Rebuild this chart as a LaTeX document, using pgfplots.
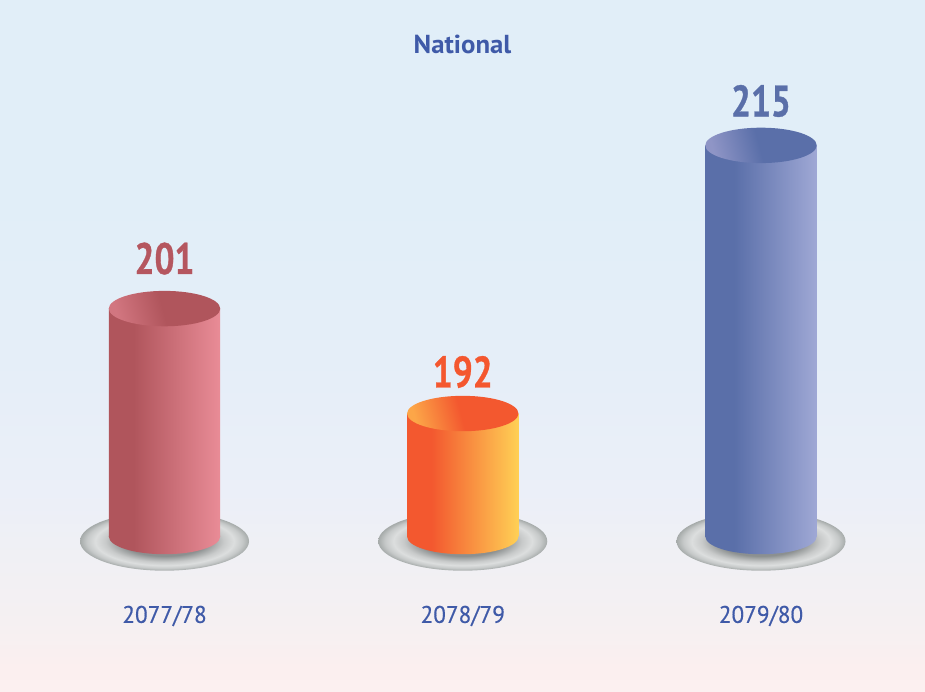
\documentclass[border=0pt]{standalone}
\usepackage{pgfplots}
\usepackage{fontspec}
\usetikzlibrary{shapes.geometric}
\pgfplotsset{compat=1.18}
\setmainfont{PT Sans}
\newfontfamily\numfont[FakeStretch=0.8,FakeBold=0.7]{PT Sans}
\definecolor{titleblue}{HTML}{3F5AA8}
\definecolor{labred}{HTML}{B5565F}
\definecolor{laborange}{HTML}{F4572F}
\definecolor{labblue}{HTML}{5A6FA9}
\definecolor{r1}{HTML}{B0555C}\definecolor{r2}{HTML}{E98C97}\definecolor{r3}{HTML}{D27680}
\definecolor{o1}{HTML}{F3582F}\definecolor{o2}{HTML}{FFD055}\definecolor{o3}{HTML}{FCA648}
\definecolor{b1}{HTML}{5A6FA9}\definecolor{b2}{HTML}{9FA8D5}\definecolor{b3}{HTML}{8F95C6}
\definecolor{bg1}{HTML}{FCF0F0}\definecolor{bg2}{HTML}{FBEFEF}\definecolor{bg3}{HTML}{F5F0F2}\definecolor{bg4}{HTML}{F0F0F4}\definecolor{bg5}{HTML}{EBEFF8}\definecolor{bg6}{HTML}{E5EEF8}\definecolor{bg7}{HTML}{E1EEF8}
\definecolor{d1}{HTML}{8C9090}\definecolor{d2}{HTML}{C8CACA}\definecolor{d3}{HTML}{DCDEDE}\definecolor{d4}{HTML}{C6C9C9}\definecolor{d5}{HTML}{A6ABAA}
% visible range of an axial shading is 25bp..75bp
\pgfdeclarehorizontalshading{redbar}{100bp}{color(0bp)=(r1); color(25bp)=(r1); color(36bp)=(r1); color(75bp)=(r2); color(100bp)=(r2)}
\pgfdeclarehorizontalshading{orangebar}{100bp}{color(0bp)=(o1); color(25bp)=(o1); color(36bp)=(o1); color(75bp)=(o2); color(100bp)=(o2)}
\pgfdeclarehorizontalshading{bluebar}{100bp}{color(0bp)=(b1); color(25bp)=(b1); color(38bp)=(b1); color(75bp)=(b2); color(100bp)=(b2)}
\pgfdeclarehorizontalshading{redtop}{100bp}{color(0bp)=(r3); color(25bp)=(r3); color(49bp)=(r1); color(100bp)=(r1)}
\pgfdeclarehorizontalshading{orangetop}{100bp}{color(0bp)=(o3); color(25bp)=(o3); color(49bp)=(o1); color(100bp)=(o1)}
\pgfdeclarehorizontalshading{bluetop}{100bp}{color(0bp)=(b3); color(25bp)=(b3); color(49bp)=(b1); color(100bp)=(b1)}
\pgfdeclareverticalshading{bgsh}{100bp}{color(0bp)=(bg1); color(25bp)=(bg1); color(26.7bp)=(bg2); color(30bp)=(bg3); color(34.8bp)=(bg4); color(39.5bp)=(bg5); color(49bp)=(bg6); color(60.5bp)=(bg7); color(100bp)=(bg7)}
\pgfdeclareradialshading{dishsh}{\pgfpoint{0bp}{0bp}}{color(0bp)=(d1); color(12.5bp)=(d1); color(17.5bp)=(d2); color(20.5bp)=(d3); color(23bp)=(d4); color(25bp)=(d5); color(50bp)=(d5)}
\pgfplotsset{
  ell/.style={sharp plot, draw=none, mark=none, nodes near coords={},
    nodes near coords style={shape=ellipse, inner sep=0pt, outer sep=0pt, anchor=center,
      minimum width=111.4pt, minimum height=35.4pt, shading=#1}},
  elltop/.style={sharp plot, draw=none, mark=none, nodes near coords={},
    nodes near coords style={shape=ellipse, inner sep=0pt, outer sep=0pt, anchor=center,
      minimum width=111.4pt, minimum height=35.4pt, shading=#1, shading angle=15}},
  val/.style n args={2}{sharp plot, draw=none, mark=none, nodes near coords,
    nodes near coords style={font=\numfont\bfseries\fontsize{44}{46}\selectfont, anchor=center, text=#1, yshift=#2}},
}
\begin{document}
\begin{tikzpicture}
\begin{axis}[
  scale only axis, width=925pt, height=691pt,
  xmin=-0.5516, xmax=2.5499, ymin=168.2, ymax=227.47,
  y coord trafo/.code={\pgfmathparse{#1-181.45}},
  axis line style={draw=none}, tick style={draw=none}, major tick length=0pt,
  xtick={0,1,2}, xticklabels={2077/78,2078/79,2079/80},
  ytick=\empty,
  xticklabel style={anchor=center, yshift=75pt, text=titleblue, font=\fontsize{24}{26}\selectfont\addfontfeatures{FakeStretch=0.97,FakeBold=0.4}},
  title={National},
  title style={at={(axis description cs:0.5,0.9276)}, anchor=center, text=titleblue, font=\fontsize{26}{28}\selectfont\bfseries\addfontfeatures{FakeStretch=1.03}},
  axis background/.style={shading=bgsh},
  ybar, bar shift=0pt, bar width=111.4pt,
  clip=false,
  /pgf/number format/assume math mode=true,
  point meta=rawy,
]
% dishes under the cylinders
\shade[shading=dishsh] (axis cs:0,181.05) ellipse [x radius=84.5pt, y radius=29.5pt];
\shade[shading=dishsh] (axis cs:1,181.05) ellipse [x radius=84.5pt, y radius=29.5pt];
\shade[shading=dishsh] (axis cs:2,181.05) ellipse [x radius=84.5pt, y radius=29.5pt];
% cylinder bodies
\addplot[draw=none, shading=redbar] coordinates {(0,201)};
\addplot[draw=none, shading=orangebar] coordinates {(1,192)};
\addplot[draw=none, shading=bluebar] coordinates {(2,215)};
% cylinder bases
\addplot[ell=redbar] coordinates {(0,181.45)};
\addplot[ell=orangebar] coordinates {(1,181.45)};
\addplot[ell=bluebar] coordinates {(2,181.45)};
% cylinder tops
\addplot[elltop=redtop] coordinates {(0,201)};
\addplot[elltop=orangetop] coordinates {(1,192)};
\addplot[elltop=bluetop] coordinates {(2,215)};
% value labels
\addplot[val={labred}{50pt}] coordinates {(0,201)};
\addplot[val={laborange}{41.5pt}] coordinates {(1,192)};
\addplot[val={labblue}{44.4pt}] coordinates {(2,215)};
\end{axis}
\end{tikzpicture}
\end{document}
